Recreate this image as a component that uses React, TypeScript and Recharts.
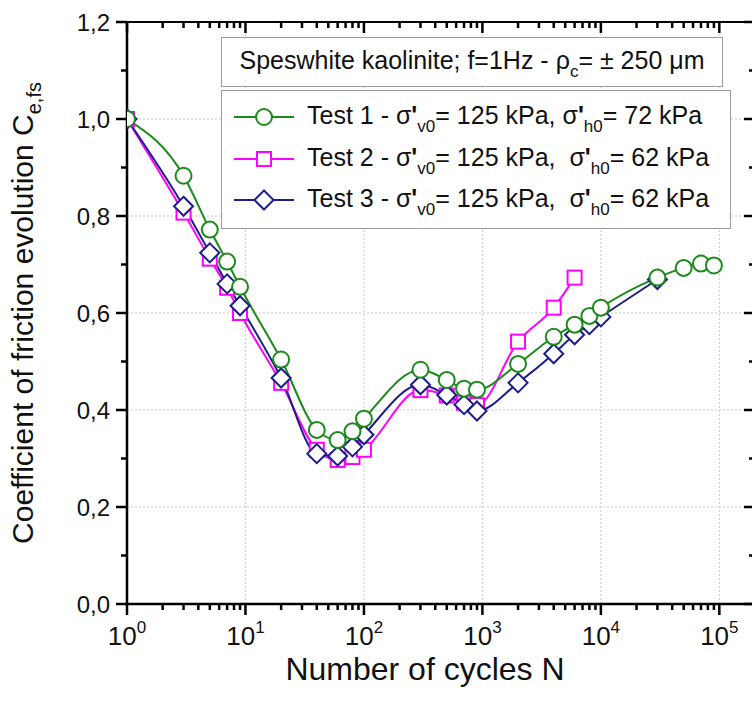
import React from "react";
import { ComposedChart, Line, XAxis, YAxis, ReferenceLine } from "recharts";

// number of cycles N for each test
const cycles1 = [1, 3, 5, 7, 9, 20, 40, 60, 80, 100, 300, 500, 700, 900, 2000, 4000, 6000, 8000, 10000, 30000, 50000, 70000, 90000];
const test1 = [1.0, 0.883, 0.772, 0.706, 0.654, 0.504, 0.359, 0.338, 0.356, 0.382, 0.483, 0.462, 0.444, 0.442, 0.495, 0.551, 0.576, 0.594, 0.611, 0.673, 0.693, 0.702, 0.698];

const cycles2 = [1, 3, 5, 7, 9, 20, 40, 60, 80, 100, 300, 500, 700, 900, 2000, 4000, 6000];
const test2 = [1.0, 0.807, 0.712, 0.652, 0.6, 0.456, 0.318, 0.297, 0.303, 0.318, 0.441, 0.43, 0.415, 0.41, 0.541, 0.611, 0.673];

const cycles3 = [1, 3, 5, 7, 9, 20, 40, 60, 80, 100, 300, 500, 700, 900, 2000, 4000, 6000, 8000, 10000, 30000];
const test3 = [1.0, 0.82, 0.724, 0.66, 0.615, 0.466, 0.31, 0.305, 0.324, 0.349, 0.452, 0.431, 0.411, 0.398, 0.456, 0.516, 0.555, 0.576, 0.592, 0.669];

const decades = [1, 10, 100, 1000, 10000, 100000];
const xTicks = decades.flatMap((d) => (d === 100000 ? [d] : [1, 2, 3, 4, 5, 6, 7, 8, 9].map((m) => m * d)));
const yTicks = [0, 0.1, 0.2, 0.3, 0.4, 0.5, 0.6, 0.7, 0.8, 0.9, 1.0, 1.1, 1.2];
const yMajor = [0, 0.2, 0.4, 0.6, 0.8, 1.0, 1.2];

const GREEN = "#1b8a1b";
const MAGENTA = "#ff00ff";
const NAVY = "#1c1c8a";
const FONT = "'Liberation Sans', Arial, sans-serif";

// frame edges (layout, from the chart margins)
const PLOT_TOP = 22;
const PLOT_RIGHT = 755;

const d1 = cycles1.map((n, i) => ({ n, v: test1[i] }));
const d2 = cycles2.map((n, i) => ({ n, v: test2[i] }));
const d3 = cycles3.map((n, i) => ({ n, v: test3[i] }));

const isDecade = (v: number) => Math.abs(Math.log10(v) - Math.round(Math.log10(v))) < 1e-9;
const isMajorY = (v: number) => yMajor.some((m) => Math.abs(m - v) < 1e-9);

function Circle({ cx, cy, color, r = 8 }: any) {
  return <circle cx={cx} cy={cy} r={r} fill="#fff" stroke={color} strokeWidth={2} />;
}
function Square({ cx, cy, color, s = 7 }: any) {
  return <rect x={cx - s} y={cy - s} width={2 * s} height={2 * s} fill="#fff" stroke={color} strokeWidth={2} />;
}
function Diamond({ cx, cy, color, s = 9.5 }: any) {
  return (
    <polygon
      points={`${cx},${cy - s} ${cx + s},${cy} ${cx},${cy + s} ${cx - s},${cy}`}
      fill="#fff"
      stroke={color}
      strokeWidth={2}
    />
  );
}

function BottomTick({ x, y, payload }: any) {
  const major = isDecade(payload.value);
  const exp = Math.round(Math.log10(payload.value));
  const len = major ? 11 : 6;
  return (
    <g>
      <line x1={x} x2={x} y1={y} y2={y + len} stroke="#000" strokeWidth={2.5} />
      <line x1={x} x2={x} y1={PLOT_TOP} y2={PLOT_TOP + len} stroke="#000" strokeWidth={2.5} />
      {major && (
        <text x={x} y={y + 41} textAnchor="middle" fontSize={26} fontFamily={FONT} fill="#111">
          10
          <tspan dy={-12} fontSize={17}>
            {exp}
          </tspan>
        </text>
      )}
    </g>
  );
}

function LeftTick({ x, y, payload }: any) {
  const major = isMajorY(payload.value);
  const len = major ? 11 : 6;
  return (
    <g>
      <line x1={x} x2={x - len} y1={y} y2={y} stroke="#000" strokeWidth={2.5} />
      <line x1={PLOT_RIGHT} x2={PLOT_RIGHT - len} y1={y} y2={y} stroke="#000" strokeWidth={2.5} />
      {major && (
        <text x={x - 17} y={y + 8.5} textAnchor="end" fontSize={24} fontFamily={FONT} fill="#111">
          {payload.value.toFixed(1).replace(".", ",")}
        </text>
      )}
    </g>
  );
}

function YLabel({ viewBox }: any) {
  const cx = viewBox.x + 33;
  const cy = viewBox.y + viewBox.height / 2;
  return (
    <text transform={`rotate(-90 ${cx} ${cy})`} x={cx} y={cy} textAnchor="middle" fontSize={30} fontFamily={FONT} fill="#111">
      Coefficient of friction evolution C
      <tspan dy={8} fontSize={20}>
        e,fs
      </tspan>
    </text>
  );
}

function XLabel({ viewBox }: any) {
  const cx = viewBox.x + viewBox.width / 2 - 16;
  return (
    <text x={cx} y={viewBox.y + 76} textAnchor="middle" fontSize={32} fontFamily={FONT} fill="#111">
      Number of cycles N
    </text>
  );
}

const legendRows = [
  { color: GREEN, Marker: Circle, label: "Test 1", h: "72", gap: "" },
  { color: MAGENTA, Marker: Square, label: "Test 2", h: "62", gap: "\u00a0" },
  { color: NAVY, Marker: Diamond, label: "Test 3", h: "62", gap: "\u00a0" },
];

const sub: React.CSSProperties = { fontSize: 17, position: "relative", top: 8 };

function LegendBoxes() {
  return (
    <>
      <div
        style={{
          position: "absolute",
          left: 221,
          top: 37,
          width: 500,
          height: 48,
          border: "1.5px solid #9a9a9a",
          background: "#fff",
          fontSize: 25,
          lineHeight: "44px",
          textAlign: "center",
          color: "#111",
          whiteSpace: "nowrap",
        }}
      >
        Speswhite kaolinite; f=1Hz - ρ<span style={sub}>c</span>= ± 250 μm
      </div>
      <div
        style={{
          position: "absolute",
          left: 221,
          top: 90,
          width: 508,
          height: 137,
          border: "1.5px solid #9a9a9a",
          background: "#fff",
          color: "#111",
        }}
      >
        {legendRows.map((r, i) => (
          <div key={r.label} style={{ position: "absolute", left: 0, top: 6 + i * 41.5, height: 40, width: 508 }}>
            <svg width={80} height={40} style={{ position: "absolute", left: 8, top: 0 }}>
              <line x1={4} x2={64} y1={20} y2={20} stroke={r.color} strokeWidth={2} />
              <r.Marker cx={34} cy={20} color={r.color} />
            </svg>
            <div style={{ position: "absolute", left: 85, top: -2, fontSize: 25, lineHeight: "40px", whiteSpace: "nowrap" }}>
              {r.label} - σ<b>'</b>
              <span style={sub}>v0</span>= 125 kPa, {r.gap}σ<b>'</b>
              <span style={sub}>h0</span>= {r.h} kPa
            </div>
          </div>
        ))}
      </div>
    </>
  );
}

export default function App() {
  return (
    <div style={{ position: "absolute", left: 0, top: 0, width: 752, height: 709, background: "#fff", fontFamily: FONT, overflow: "hidden" }}>
      <ComposedChart width={752} height={709} margin={{ top: 21, right: -3, bottom: 0, left: 0 }}>
        <XAxis
          dataKey="n"
          type="number"
          scale="log"
          domain={[1, 200000]}
          allowDataOverflow
          ticks={xTicks}
          interval={0}
          tickSize={0}
          tickMargin={0}
          tickLine={false}
          tick={<BottomTick />}
          axisLine={{ stroke: "#000", strokeWidth: 2.5 }}
          height={105}
          label={<XLabel />}
        />
        <XAxis
          xAxisId="top"
          orientation="top"
          type="number"
          scale="log"
          domain={[1, 200000]}
          allowDataOverflow
          tick={false}
          tickLine={false}
          axisLine={{ stroke: "#000", strokeWidth: 2 }}
          height={1}
        />
        <YAxis
          type="number"
          domain={[0, 1.2]}
          ticks={yTicks}
          interval={0}
          tickSize={0}
          tickMargin={0}
          tickLine={false}
          tick={<LeftTick />}
          axisLine={{ stroke: "#000", strokeWidth: 2.5 }}
          width={127}
          label={<YLabel />}
        />
        {decades.slice(1).map((d) => (
          <ReferenceLine key={"x" + d} x={d} stroke="#c8c8c8" strokeDasharray="2 2" />
        ))}
        {yMajor.slice(1, -1).map((v) => (
          <ReferenceLine key={"y" + v} y={v} stroke="#c8c8c8" strokeDasharray="2 2" />
        ))}
        <Line
          data={d2}
          dataKey="v"
          type="monotone"
          stroke={MAGENTA}
          strokeWidth={2}
          isAnimationActive={false}
          dot={(p: any) => <Square key={p.index} cx={p.cx} cy={p.cy} color={MAGENTA} />}
        />
        <Line
          data={d3}
          dataKey="v"
          type="monotone"
          stroke={NAVY}
          strokeWidth={2}
          isAnimationActive={false}
          dot={(p: any) => <Diamond key={p.index} cx={p.cx} cy={p.cy} color={NAVY} />}
        />
        <Line
          data={d1}
          dataKey="v"
          type="monotone"
          stroke={GREEN}
          strokeWidth={2}
          isAnimationActive={false}
          dot={(p: any) => <Circle key={p.index} cx={p.cx} cy={p.cy} color={GREEN} />}
        />
      </ComposedChart>
      <LegendBoxes />
    </div>
  );
}
